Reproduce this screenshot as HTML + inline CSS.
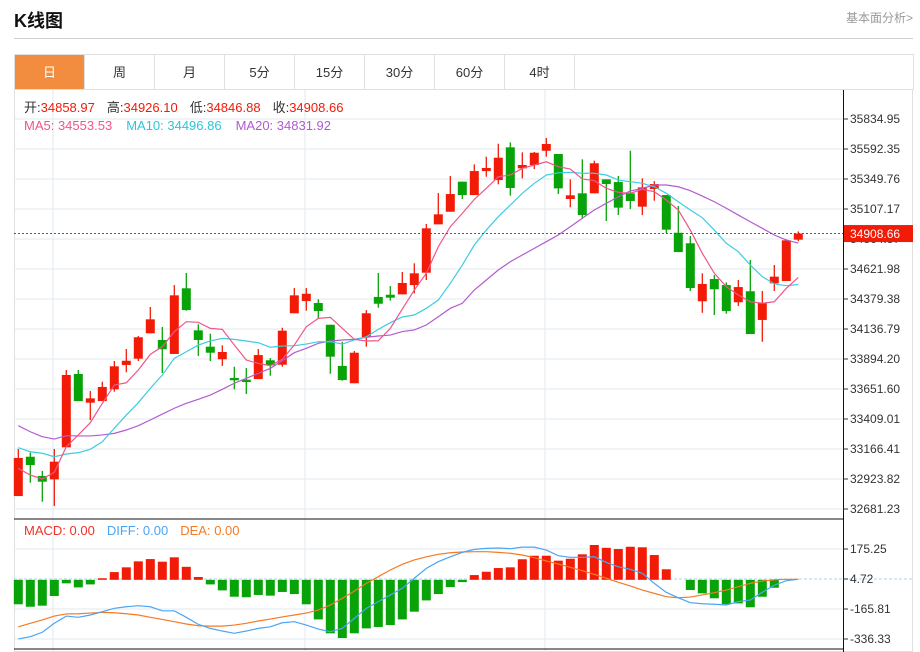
<!DOCTYPE html>
<html><head><meta charset="utf-8">
<style>
body{margin:0;background:#fff;font-family:"Liberation Sans","Noto Sans CJK SC",sans-serif;}
#wrap{position:relative;width:920px;height:652px;overflow:hidden;}
.title{position:absolute;left:14px;top:7px;font-size:18px;font-weight:bold;color:#111;}
.more{position:absolute;right:7px;top:9px;font-size:12px;color:#999;}
.hr{position:absolute;left:14px;top:38px;width:899px;height:1px;background:#d0d0d0;}
.tabs{position:absolute;left:14px;top:54px;width:898px;height:35px;border:1px solid #e0e0e0;border-bottom:none;display:flex;}
.tab{width:69px;height:35px;line-height:35px;text-align:center;font-size:13px;color:#333;border-right:1px solid #e0e0e0;}
.tab.on{background:#f28c3f;color:#fff;}
svg{position:absolute;left:0;top:0;}
</style></head><body>
<div id="wrap">
<div class="title">K线图</div>
<div class="more">基本面分析&gt;</div>
<div class="hr"></div>
<div class="tabs">
<div class="tab on">日</div>
<div class="tab">周</div>
<div class="tab">月</div>
<div class="tab">5分</div>
<div class="tab">15分</div>
<div class="tab">30分</div>
<div class="tab">60分</div>
<div class="tab">4时</div>
</div>
<svg id="chart" width="920" height="652"></svg>
</div>
<script>
const opens=[32786,33104,32948,32921,33180,33773,33541,33554,33649,33846,33897,34102,34048,33935,34466,34126,33994,33892,33741,33727,33732,33884,33848,34264,34363,34347,34171,33838,33698,34070,34396,34414,34417,34492,34592,34983,35085,35328,35220,35414,35341,35606,35436,35463,35578,35552,35188,35234,35234,35347,35325,35234,35126,35269,35220,34915,34830,34361,34541,34492,34353,34442,34210,34506,34525,34858.97];
const highs=[33166,33137,32989,33166,33805,33805,33635,33711,33878,33975,34080,34315,34153,34492,34590,34175,34099,34005,33832,33821,33975,33902,34147,34468,34468,34377,34171,34034,33959,34290,34590,34484,34598,34668,34986,35236,35374,35328,35468,35530,35635,35646,35565,35568,35681,35552,35347,35509,35498,35347,35374,35578,35355,35333,35220,35131,34889,34587,34573,34514,34533,34695,34444,34654,34862,34926.10];
const lows=[32786,32894,32740,32706,33180,33554,33401,33554,33630,33787,33878,34102,33781,33935,34285,33918,33878,33838,33649,33611,33732,33759,33832,34264,34285,34223,33775,33719,33698,33994,34309,34366,34417,34425,34533,34983,35085,35188,35220,35368,35307,35215,35355,35430,35530,35228,35121,35034,35234,35010,35058,35107,35058,35174,34910,34759,34444,34268,34250,34260,34323,34096,34034,34444,34525,34846.88];
const closes=[33094,33037,32902,33064,33765,33554,33576,33668,33835,33880,34070,34215,33973,34409,34290,34048,33945,33951,33722,33708,33926,33843,34123,34409,34422,34282,33913,33724,33945,34264,34341,34390,34509,34587,34951,35064,35228,35220,35414,35439,35522,35277,35463,35562,35633,35274,35218,35058,35477,35309,35118,35172,35282,35309,34940,34759,34468,34501,34458,34282,34476,34096,34345,34560,34854,34908.66];
const ma5=[33010,32956,32924,32978,33185,33280,33379,33536,33684,33702,33805,33932,33994,34115,34196,34191,34142,34134,34007,33886,33859,33840,33892,34007,34155,34223,34231,34142,34053,34040,34042,34142,34298,34452,34587,34802,34964,35072,35185,35274,35368,35382,35436,35463,35489,35449,35430,35350,35336,35274,35242,35234,35266,35247,35180,35099,34937,34749,34587,34479,34412,34357,34345,34357,34466,34553.53];
const ma10=[33177,33144,33132,33104,33126,33137,33164,33225,33334,33441,33541,33657,33765,33900,33953,34007,34040,34061,34053,34040,34026,33989,33999,34002,34015,34034,34034,34015,34048,34074,34134,34188,34234,34250,34304,34371,34506,34654,34816,34937,35045,35139,35234,35315,35382,35400,35404,35396,35396,35382,35341,35328,35315,35287,35234,35166,35099,35037,34937,34830,34762,34654,34560,34501,34487,34496.86];
const ma20=[33355,33306,33266,33247,33274,33272,33272,33280,33293,33320,33355,33401,33449,33496,33536,33568,33603,33649,33698,33738,33778,33819,33880,33945,33981,34021,34040,34048,34053,34070,34080,34088,34116,34129,34169,34236,34304,34345,34452,34533,34614,34681,34735,34789,34843,34897,34964,35032,35099,35153,35206,35253,35274,35301,35301,35287,35255,35212,35166,35113,35058,35004,34951,34897,34856,34831.92];
const macdHist=[-139,-153,-147,-92,-20,-43,-26,9,44,71,105,118,103,128,74,16,-26,-60,-96,-99,-86,-90,-69,-81,-139,-225,-304,-331,-304,-276,-268,-257,-225,-181,-117,-81,-41,-13,27,46,67,71,117,137,137,109,120,145,198,182,175,188,185,141,60,0,-58,-77,-105,-139,-134,-156,-96,-45,-1,0];
const diffVals=[-336,-323,-298,-247,-206,-213,-200,-181,-162,-153,-147,-153,-176,-176,-213,-253,-276,-291,-304,-291,-276,-267,-244,-238,-257,-280,-295,-276,-219,-162,-124,-86,-48,9,65,103,131,156,173,179,181,177,186,186,169,137,128,128,131,99,74,60,37,-20,-71,-102,-130,-136,-139,-143,-124,-115,-71,-30,-5,3];
const deaVals=[-267,-247,-228,-206,-194,-193,-189,-185,-187,-193,-200,-213,-225,-238,-251,-261,-263,-263,-257,-247,-234,-223,-211,-200,-189,-172,-143,-105,-64,-20,18,56,88,113,131,145,154,158,160,160,156,151,141,126,107,90,71,52,31,9,-14,-35,-58,-77,-96,-102,-98,-86,-73,-58,-39,-20,-7,0,3,3];
const priceTicks=[35834.95,35592.35,35349.76,35107.17,34864.57,34621.98,34379.38,34136.79,33894.20,33651.60,33409.01,33166.41,32923.82,32681.23];
const macdTicks=[175.25,4.72,-165.81,-336.33];
const lastPrice=34908.66;

const NS='http://www.w3.org/2000/svg';
const svg=document.getElementById('chart');
function mk(tag,attrs,parent){const e=document.createElementNS(NS,tag);for(const k in attrs)e.setAttribute(k,attrs[k]);(parent||svg).appendChild(e);return e;}
const L=14,R=843,W=913;
function xAt(i){return 18.3+12*i;}
function yP(p){return 119+(35834.95-p)/242.59*30;}
function yM(v){return 579+(4.72-v)/170.53*30;}
const RED='#f21b07',GREEN='#08a308';

let g=mk('g',{});


mk('rect',{x:14.5,y:89.5,width:898,height:562,fill:'none',stroke:'#e0e0e0'},g);
[53,305,545].forEach(x=>mk('line',{x1:x,y1:90,x2:x,y2:652,stroke:'#e3e9ef'},g));
priceTicks.forEach(t=>mk('line',{x1:L,y1:yP(t),x2:R,y2:yP(t),stroke:'#e3e9ef'},g));
macdTicks.forEach((t,i)=>{if(i!==1)mk('line',{x1:L,y1:yM(t),x2:R,y2:yM(t),stroke:'#e3e9ef'},g);});
mk('line',{x1:L,y1:yM(macdTicks[1]),x2:W,y2:yM(macdTicks[1]),stroke:'#a8d4ea','stroke-dasharray':'3,2'},g);
mk('line',{x1:L,y1:519,x2:R,y2:519,stroke:'#111'},g);
mk('line',{x1:L,y1:649,x2:R,y2:649,stroke:'#111'},g);
mk('line',{x1:R+0.5,y1:90,x2:R+0.5,y2:652,stroke:'#111'},g);

const ax=mk('g',{});


priceTicks.forEach(t=>{const y=yP(t);mk('line',{x1:R,y1:y,x2:R+5,y2:y,stroke:'#333'},ax);
 const tx=mk('text',{x:850,y:y+4,'font-size':12,fill:'#333'},ax);tx.textContent=t.toFixed(2);});
const axm=mk('g',{});


macdTicks.forEach(t=>{const y=yM(t);mk('line',{x1:R,y1:y,x2:R+5,y2:y,stroke:'#333'},axm);
 const tx=mk('text',{x:850,y:y+4,'font-size':12,fill:'#333'},axm);tx.textContent=t.toFixed(2);});

const cg=mk('g',{});


for(let i=0;i<opens.length;i++){
 const up=closes[i]>=opens[i],col=up?RED:GREEN,x=xAt(i);
 const c=mk('g',{},cg);
 
 
 mk('line',{x1:x,y1:yP(highs[i]),x2:x,y2:yP(lows[i]),stroke:col,'stroke-width':1.3},c);
 const t=yP(Math.max(opens[i],closes[i])),b=yP(Math.min(opens[i],closes[i]));
 mk('rect',{x:x-4.5,y:t,width:9,height:Math.max(1.5,b-t),fill:col},c);
}
function line(arr,fy,col,name){const p=mk('polyline',{points:arr.map((v,i)=>xAt(i)+','+fy(v)).join(' '),fill:'none',stroke:col,'stroke-width':1.2});
 
 }
line(ma20,yP,'#b35cd0','ma20-line');
line(ma10,yP,'#3ccde0','ma10-line');
line(ma5,yP,'#f0558a','ma5-line');

const lp=yP(lastPrice);
mk('line',{x1:L,y1:lp,x2:R,y2:lp,stroke:RED,'stroke-dasharray':'2,2'});
const lb=mk('g',{});


mk('rect',{x:844,y:lp-8.5,width:69,height:17,fill:RED},lb);
const lt=mk('text',{x:850,y:lp+4.5,'font-size':12,fill:'#fff'},lb);lt.textContent=lastPrice.toFixed(2);

const mg=mk('g',{});


const y0=yM(0);
macdHist.forEach((v,i)=>{const y=yM(v);const r=mk('rect',{x:xAt(i)-4.5,y:Math.min(y,y0),width:9,height:Math.abs(y-y0),fill:v>=0?RED:GREEN},mg);
 
 });
line(deaVals,yM,'#f57a23','dea-line');
line(diffVals,yM,'#4ba5f5','diff-line');

function txt(parts,y,name){const t=mk('text',{x:24,y:y,'font-size':13});
 parts.forEach(([s,c,dx])=>{const sp=mk('tspan',{fill:c},t);if(dx)sp.setAttribute('dx',dx);sp.textContent=s;});}
txt([['开:','#333'],['34858.97',RED],['高:','#333',12],['34926.10',RED],['低:','#333',12],['34846.88',RED],['收:','#333',12],['34908.66',RED]],112,'ohlc-legend');
txt([['MA5:  34553.53','#f0558a'],['MA10:  34496.86','#2fc4d8',14],['MA20:  34831.92','#b15ad0',14]],130,'ma-legend');
txt([['MACD: 0.00','#f0332a'],['DIFF: 0.00','#4ba5f5',12],['DEA: 0.00','#f57a23',12]],535,'macd-legend');
</script>
</body></html>
